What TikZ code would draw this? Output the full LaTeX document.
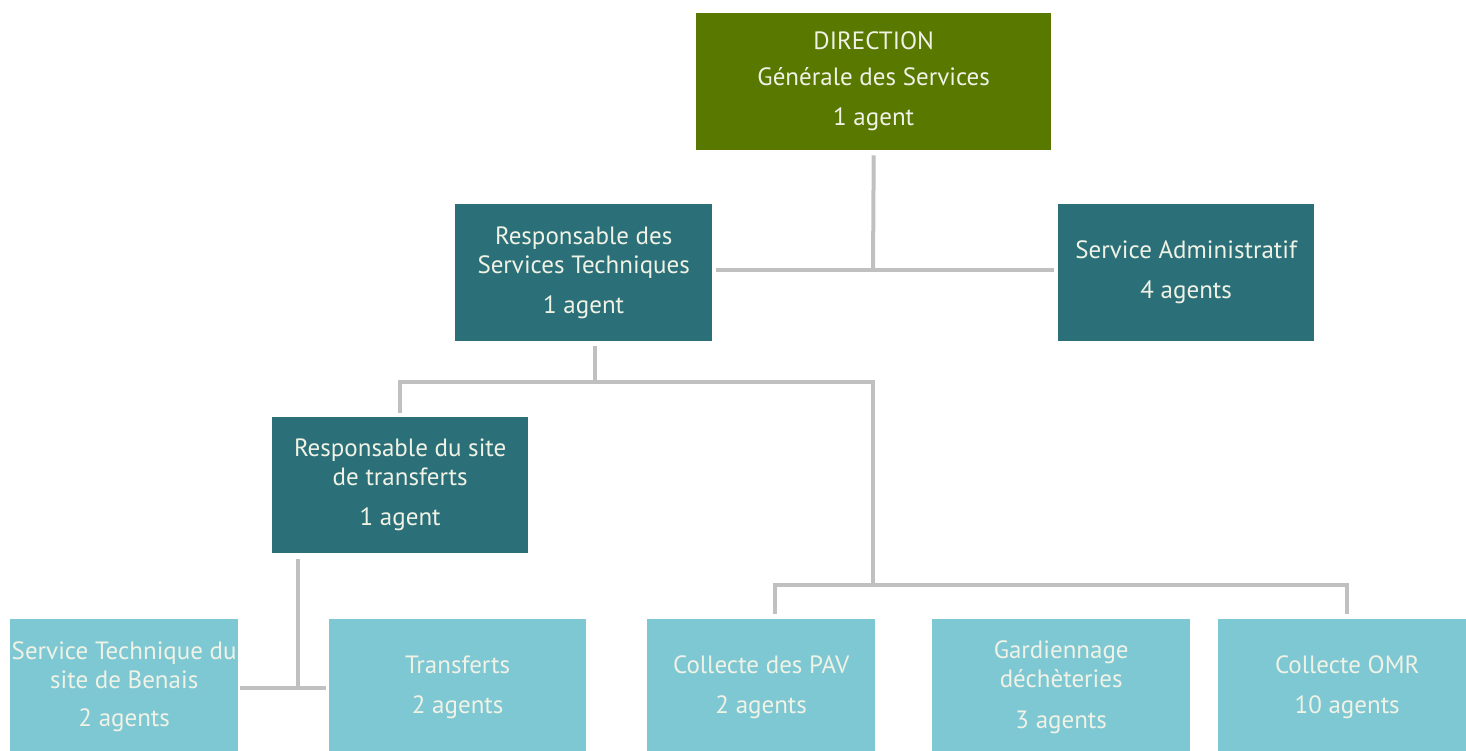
\documentclass[tikz,border=0pt]{standalone}
\usepackage{fontspec}
\setmainfont{PT Sans}
\definecolor{olive}{RGB}{88,120,0}
\definecolor{darkteal}{RGB}{43,112,120}
\definecolor{lightteal}{RGB}{126,200,212}
\definecolor{linegray}{RGB}{192,192,192}
\definecolor{txt}{RGB}{240,242,230}
\begin{document}
\begin{tikzpicture}[x=1pt,y=-1pt,
  box/.style={anchor=north west,inner sep=0pt,align=center,text=txt,
    font=\fontsize{25}{29}\selectfont},
  conn/.style={draw=linegray,line width=4pt}]
\useasboundingbox (0,0) rectangle (1466,750);
\begin{scope}
\clip (0,0) rectangle (1466,750);
% boxes
\node[box,fill=olive,minimum width=355,minimum height=137,
  font=\fontsize{25}{36}\selectfont] (dir) at (696,13)
  {DIRECTION\\Générale des Services\\[4pt]1 agent};
\node[box,fill=darkteal,minimum width=257,minimum height=137] (rst) at (455,204)
  {Responsable des\\Services Techniques\\[11pt]1 agent};
\node[box,fill=darkteal,minimum width=256,minimum height=137] (adm) at (1058,204)
  {Service Administratif\\[11pt]4 agents};
\node[box,fill=darkteal,minimum width=256,minimum height=136] (rsite) at (272,417)
  {Responsable du site\\de transferts\\[11pt]1 agent};
\node[box,fill=lightteal,minimum width=228,minimum height=136] (stb) at (10,619)
  {Service Technique du\\site de Benais\\[9pt]2 agents};
\node[box,fill=lightteal,minimum width=257,minimum height=136] (tr) at (329,619)
  {Transferts\\[11pt]2 agents};
\node[box,fill=lightteal,minimum width=228,minimum height=136] (pav) at (647,619)
  {Collecte des PAV\\[11pt]2 agents};
\node[box,fill=lightteal,minimum width=258,minimum height=136] (gar) at (932,619)
  {Gardiennage\\déchèteries\\[12pt]3 agents};
\node[box,fill=lightteal,minimum width=258,minimum height=136] (omr) at (1218,619)
  {Collecte OMR\\[11pt]10 agents};
\end{scope}
% connector points
\coordinate (j1) at (873,270);
\coordinate (j2) at (595,382);
\coordinate (j3) at (873,585);
\coordinate (j4) at (298,688);
% DIRECTION to level 2
\draw[conn] ([yshift=-5pt]dir.south) -- (j1);
\draw[conn] (716,270) -- (1054,270);
% Resp ST to level 3
\draw[conn] ([yshift=-5pt]rst.south -| j2) -- (j2);
\draw[conn] (400,382) -- (875,382);
\draw[conn] (400,380) -- ([yshift=4pt]rsite.north -| 400,0);
\draw[conn] (873,380) -- (j3);
% to bottom right
\draw[conn] (773,585) -- (1349,585);
\draw[conn] (775,583) -- ([yshift=5pt]pav.north -| 775,0);
\draw[conn] (1347,583) -- ([yshift=5pt]omr.north -| 1347,0);
% Resp site to bottom left
\draw[conn] ([yshift=-6pt]rsite.south -| 298,0) -- (j4);
\draw[conn] (240,688) -- (326,688);
\end{tikzpicture}
\end{document}
